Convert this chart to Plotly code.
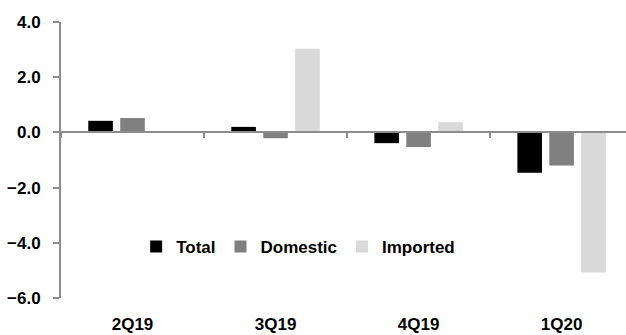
import plotly.graph_objects as go

quarters = ["2Q19", "3Q19", "4Q19", "1Q20"]
total = [0.42, 0.20, -0.39, -1.46]
domestic = [0.52, -0.21, -0.53, -1.20]
imported = [0.0, 3.03, 0.37, -5.08]

series = [
    ("Total", total, "#000000"),
    ("Domestic", domestic, "#808080"),
    ("Imported", imported, "#d9d9d9"),
]

font_family = "Arial, 'Liberation Sans', sans-serif"
axis_grey = "#8c8c8c"

fig = go.Figure()
for name, vals, color in series:
    fig.add_trace(go.Bar(
        x=quarters, y=vals, name=name,
        marker=dict(color=color, line=dict(width=0)),
    ))

# empty trace so the zero-baseline axis (x2) gets drawn
fig.add_trace(go.Scatter(
    x=[None], y=[None], xaxis="x2", yaxis="y",
    showlegend=False, hoverinfo="skip", mode="markers",
))

fig.update_layout(
    width=626, height=335,
    margin=dict(l=61, r=0, t=22, b=37),
    paper_bgcolor="white", plot_bgcolor="white",
    barmode="group", bargap=0.33, bargroupgap=0.23,
    font=dict(family=font_family, size=17, color="#000000", weight="bold"),
    showlegend=True,
    legend=dict(
        orientation="h", x=0.133, xanchor="left", y=0.185, yanchor="middle",
        font=dict(family=font_family, size=17, color="#000000", weight="bold"),
        bgcolor="rgba(0,0,0,0)", borderwidth=0,
    ),
    xaxis=dict(
        type="category", range=[-0.5, 3.45],
        showline=False, ticks="", showgrid=False, zeroline=False,
        ticklabelstandoff=14,
        tickfont=dict(family=font_family, size=17, weight="bold"),
    ),
    # baseline at zero with boundary ticks between quarters
    xaxis2=dict(
        overlaying="x", anchor="free", position=0.6, type="linear",
        range=[-0.5, 3.45], showline=True, linecolor=axis_grey, linewidth=2,
        ticks="outside", ticklen=5, tickwidth=2, tickcolor=axis_grey,
        tickmode="array", tickvals=[-0.5, 0.5, 1.5, 2.5],
        showticklabels=False, showgrid=False, zeroline=False,
    ),
    yaxis=dict(
        range=[-6, 4], tickmode="linear", tick0=-6, dtick=2, tickformat=".1f",
        showline=True, linecolor=axis_grey, linewidth=2,
        ticks="outside", ticklen=6, tickwidth=2, tickcolor=axis_grey,
        showgrid=False, zeroline=False, ticklabelstandoff=9,
        tickfont=dict(family=font_family, size=17, weight="bold"),
    ),
)

fig.write_html("out.html")
